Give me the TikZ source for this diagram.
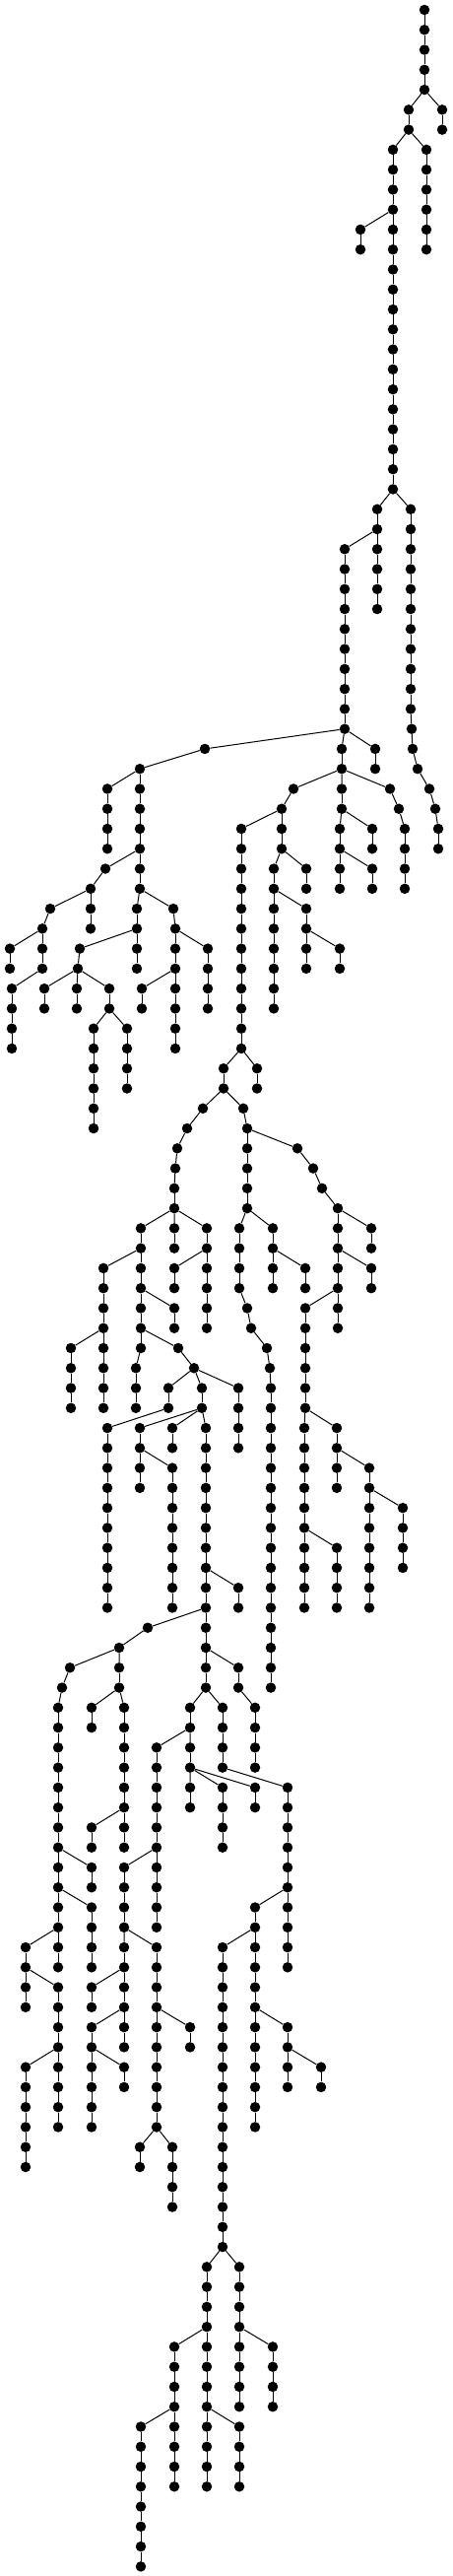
\documentclass[tikz,border=0pt]{standalone}
\tikzset{dot/.style={circle,fill=black,draw=none,inner sep=0pt,minimum size=10.5pt},
  edge/.style={line width=1pt,black}}
\newcommand\mkseg[4]{\foreach \i in {#3,...,#4}{\node[dot] (#1-\i) at (#2,\i) {};\ifnum\i>#3\relax\pgfmathtruncatemacro\ip{\i-1}\draw[edge] (#1-\ip) -- (#1-\i);\fi}}
\newcommand\mkpath[3]{\foreach \xx [count=\i from #2] in {#3}{\node[dot] (#1-\i) at (\xx,\i) {};\ifnum\i>#2\relax\pgfmathtruncatemacro\ip{\i-1}\draw[edge] (#1-\ip) -- (#1-\i);\fi}}
\begin{document}
\begin{tikzpicture}[x=1pt,y=-20.268pt]
\useasboundingbox[fill=white] (0,-0.4934) rectangle (459,128.476);
\mkseg{a}{431}{0}{4}
\mkseg{b}{449}{5}{6}
\mkseg{c}{415}{5}{6}
\mkseg{d}{399}{7}{24}
\mkseg{e}{433}{7}{12}
\mkseg{f}{366}{11}{12}
\mkseg{g}{383}{25}{30}
\mkpath{h}{25}{417,417,417,417,417,417,417,417,417,417,417,418,419,424,436,442,445,445}
\mkseg{i}{350}{27}{36}
\mkseg{j}{381}{37}{38}
\mkseg{k}{347}{37}{38}
\mkpath{l}{37}{208,142,142,142,142,142,142,142,139,139,139,139}
\mkseg{m}{109}{39}{42}
\mkpath{n}{43}{107,92,92,92}
\mkpath{o}{45}{51,43,43,43,12,12,12,12}
\mkseg{p}{10}{47}{48}
\mkpath{q}{45}{176,178,178,178,178,178,178,178}
\mkseg{r}{211}{47}{50}
\mkseg{s}{144}{49}{50}
\mkpath{t}{47}{81,79}
\mkseg{u}{45}{49}{50}
\mkseg{v}{78}{49}{50}
\mkseg{w}{111}{49}{50}
\mkseg{x}{95}{51}{56}
\mkseg{y}{129}{51}{54}
\mkpath{z}{39}{298,286,286,286}
\mkseg{aa}{245}{41}{52}
\mkseg{ab}{227}{53}{54}
\mkseg{ac}{261}{53}{54}
\mkpath{ad}{55}{206,190,180,178,177,177}
\mkpath{ae}{55}{247,251,251,251,251,251}
\mkpath{af}{57}{302,318,327,343,343,343,343,343,343,343}
\mkseg{ag}{377}{61}{62}
\mkseg{ah}{377}{63}{64}
\mkseg{ai}{310}{65}{70}
\mkseg{aj}{309}{71}{80}
\mkseg{ak}{342}{77}{80}
\mkseg{al}{342}{71}{74}
\mkseg{am}{375}{73}{80}
\mkseg{an}{409}{75}{78}
\mkpath{ao}{61}{243,243,243,243,251,255,271,274,275,275,275,275,275,275,275,275,275,275,275,275,275,275,275,275}
\mkseg{ap}{277}{61}{64}
\mkseg{aq}{310}{63}{64}
\mkpath{ar}{61}{143,143,143,143,143,143,143,138,138,138}
\mkseg{as}{105}{63}{70}
\mkseg{at}{72}{67}{70}
\mkseg{au}{177}{65}{66}
\mkpath{av}{67}{181,197}
\mkseg{aw}{171}{69}{70}
\mkseg{ax}{109}{71}{80}
\mkseg{ay}{205}{69}{70}
\mkseg{az}{142}{71}{74}
\mkseg{ba}{175}{73}{80}
\mkseg{bb}{175}{71}{72}
\mkseg{bc}{209}{71}{84}
\mkseg{bd}{242}{79}{80}
\mkseg{be}{242}{69}{72}
\mkpath{bf}{81}{150,121}
\mkpath{bg}{83}{71,63,59,59,59,59,59,59,59,59,59,59,59,59,59,59}
\mkseg{bh}{93}{93}{94}
\mkseg{bi}{93}{95}{98}
\mkseg{bj}{26}{97}{100}
\mkseg{bk}{59}{99}{106}
\mkseg{bl}{26}{103}{108}
\mkpath{bm}{83}{121,121,126,126,126,126,126,126,126,126}
\mkseg{bn}{93}{85}{86}
\mkseg{bo}{93}{91}{92}
\mkpath{bp}{83}{242,242,259,259,259,259}
\mkseg{bq}{193}{85}{86}
\mkseg{br}{193}{87}{88}
\mkseg{bs}{193}{89}{90}
\mkseg{bt}{226}{89}{92}
\mkseg{bu}{259}{89}{90}
\mkseg{bv}{159}{87}{96}
\mkseg{bw}{126}{93}{96}
\mkseg{bx}{126}{97}{102}
\mkseg{by}{93}{99}{100}
\mkseg{bz}{93}{101}{106}
\mkseg{ca}{126}{103}{104}
\mkseg{cb}{159}{97}{106}
\mkseg{cc}{193}{101}{102}
\mkseg{cd}{142}{107}{108}
\mkseg{ce}{175}{107}{110}
\mkseg{cf}{278}{43}{50}
\mkseg{cg}{311}{43}{44}
\mkseg{ch}{311}{45}{48}
\mkseg{ci}{345}{47}{48}
\mkpath{cj}{39}{347,347,345,345,345,345}
\mkseg{ck}{378}{41}{42}
\mkseg{cl}{378}{43}{44}
\mkpath{cm}{39}{396,405,411,411,411,411}
\mkpath{cn}{85}{226,226,226,226,292,292,292,292,292,292,292,292,292,292}
\mkseg{co}{259}{95}{106}
\mkseg{cp}{226}{97}{112}
\mkseg{cq}{292}{101}{104}
\mkseg{cr}{326}{103}{104}
\mkseg{cs}{210}{113}{124}
\mkseg{ct}{177}{117}{124}
\mkseg{cu}{143}{121}{128}
\mkseg{cv}{243}{121}{124}
\mkseg{cw}{243}{113}{120}
\mkseg{cx}{277}{117}{120}
\mkseg{cy}{177}{61}{62}
\mkseg{cz}{210}{61}{66}
\mkseg{da}{177}{63}{64}
\draw[edge] (a-4)--(b-5) (a-4)--(c-5) (c-6)--(d-7) (c-6)--(e-7) (d-10)--(f-11)
 (d-24)--(g-25) (d-24)--(h-25) (g-26)--(i-27) (i-36)--(j-37) (i-36)--(k-37) (i-36)--(l-37)
 (l-38)--(m-39) (l-42)--(n-43) (n-44)--(o-45) (o-46)--(p-47) (l-44)--(q-45) (q-46)--(r-47)
 (q-48)--(s-49) (l-46)--(t-47) (t-48)--(u-49) (t-48)--(v-49) (t-48)--(w-49) (w-50)--(x-51)
 (w-50)--(y-51) (k-38)--(z-39) (z-40)--(aa-41) (aa-52)--(ab-53) (aa-52)--(ac-53)
 (ab-54)--(ad-55) (ab-54)--(ae-55) (ae-56)--(af-57) (af-60)--(ag-61) (af-62)--(ah-63)
 (af-64)--(ai-65) (ai-70)--(aj-71) (aj-76)--(ak-77) (ai-70)--(al-71) (al-72)--(am-73)
 (am-74)--(an-75) (ae-60)--(ao-61) (ae-60)--(ap-61) (ap-62)--(aq-63) (ad-60)--(ar-61)
 (ar-62)--(as-63) (as-66)--(at-67) (ar-64)--(au-65) (ar-66)--(av-67) (av-68)--(aw-69)
 (aw-70)--(ax-71) (av-68)--(ay-69) (ay-70)--(az-71) (az-72)--(ba-73) (ay-70)--(bb-71)
 (ay-70)--(bc-71) (bc-78)--(bd-79) (av-68)--(be-69) (bc-80)--(bf-81) (bf-82)--(bg-83)
 (bg-92)--(bh-93) (bg-94)--(bi-95) (bg-96)--(bj-97) (bj-98)--(bk-99) (bk-102)--(bl-103)
 (bf-82)--(bm-83) (bm-84)--(bn-85) (bm-90)--(bo-91) (bc-82)--(bp-83) (bc-84)--(bq-85)
 (bq-86)--(br-87) (br-88)--(bs-89) (br-88)--(bt-89) (br-88)--(bu-89) (bq-86)--(bv-87)
 (bv-92)--(bw-93) (bw-96)--(bx-97) (bx-98)--(by-99) (bx-100)--(bz-101) (bz-102)--(ca-103)
 (bw-96)--(cb-97) (cb-100)--(cc-101) (cb-106)--(cd-107) (cb-106)--(ce-107)
 (z-42)--(cf-43) (z-42)--(cg-43) (cf-44)--(ch-45) (ch-46)--(ci-47) (k-38)--(cj-39)
 (cj-40)--(ck-41) (cj-42)--(cl-43) (k-38)--(cm-39) (bc-84)--(cn-85) (cn-94)--(co-95)
 (co-96)--(cp-97) (co-100)--(cq-101) (cq-102)--(cr-103) (cp-112)--(cs-113)
 (cs-116)--(ct-117) (ct-120)--(cu-121) (cs-120)--(cv-121) (cp-112)--(cw-113)
 (cw-116)--(cx-117) (ad-60)--(cy-61) (ad-60)--(cz-61) (cz-62)--(da-63);
\end{tikzpicture}
\end{document}
